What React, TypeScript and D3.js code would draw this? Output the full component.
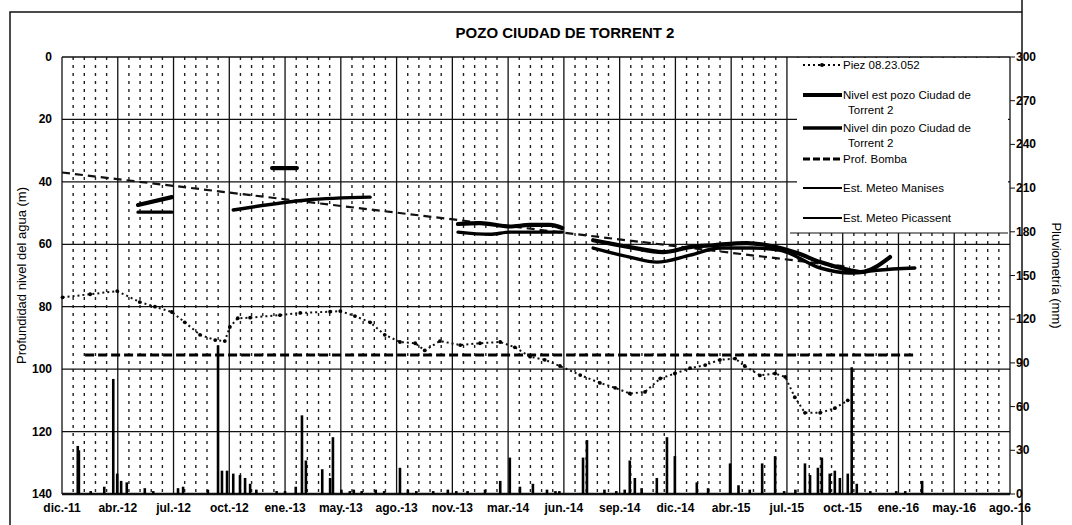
import { useEffect, useRef } from "react";
import * as d3 from "d3";

// axis labels
const tickLabels = [
  "dic.-11", "abr.-12", "jul.-12", "oct.-12", "ene.-13", "may.-13", "ago.-13", "nov.-13", "mar.-14",
  "jun.-14", "sep.-14", "dic.-14", "abr.-15", "jul.-15", "oct.-15", "ene.-16", "may.-16", "ago.-16",
];
const depthTicks = [0, 20, 40, 60, 80, 100, 120, 140];
const rainTicks = [0, 30, 60, 90, 120, 150, 180, 210, 240, 270, 300];

// Piez 08.23.052 (m)
const piez: [string, number][] = [
  ["2012-01-01", 77], ["2012-02-19", 76], ["2012-04-07", 75], ["2012-05-17", 78.5], ["2012-06-13", 80],
  ["2012-07-13", 81.7], ["2012-08-05", 85], ["2012-09-01", 89], ["2012-09-28", 90.7], ["2012-10-15", 91],
  ["2012-10-24", 86.5], ["2012-11-07", 83.7], ["2012-11-29", 83.5], ["2013-01-21", 82.7], ["2013-02-26", 82],
  ["2013-04-20", 81.6], ["2013-05-08", 81.4], ["2013-06-03", 83], ["2013-06-30", 85], ["2013-07-26", 89],
  ["2013-08-22", 91.3], ["2013-09-18", 91.7], ["2013-10-05", 94], ["2013-11-01", 91], ["2013-12-07", 92.3],
  ["2014-01-11", 91.7], ["2014-02-16", 91.3], ["2014-03-14", 93], ["2014-04-10", 96], ["2014-05-06", 97],
  ["2014-06-02", 99], ["2014-07-08", 101.9], ["2014-08-12", 104.4], ["2014-09-08", 106], ["2014-10-04", 107.8],
  ["2014-10-31", 107.3], ["2014-11-27", 103], ["2014-12-23", 101.4], ["2015-01-19", 99.7], ["2015-02-15", 98.7],
  ["2015-03-13", 97], ["2015-04-09", 96.6], ["2015-04-26", 99], ["2015-05-23", 102], ["2015-06-19", 101.4],
  ["2015-07-07", 102.5], ["2015-07-24", 109], ["2015-08-11", 114], ["2015-09-07", 114], ["2015-10-03", 112.5],
  ["2015-10-26", 110],
];

// Nivel est / din (m), null = gap
const nivelEst: ([string, number] | null)[] = [
  ["2012-05-14", 47.4], ["2012-07-13", 44.9], null,
  ["2013-01-07", 35.6], ["2013-02-20", 35.6], null,
  ["2013-12-03", 53.5], ["2014-01-11", 53.2], ["2014-03-05", 54.3], ["2014-04-10", 53.8], ["2014-05-15", 53.8],
  ["2014-06-06", 54.8], null,
  ["2014-07-31", 58.7], ["2014-10-04", 60.9], ["2014-12-02", 62.5], ["2015-01-19", 60.9], ["2015-03-01", 60.3],
  ["2015-04-30", 59.6], ["2015-06-05", 60.3], ["2015-07-28", 62.8], ["2015-09-07", 65.7], ["2015-10-30", 68.3],
  ["2015-11-17", 68.9], ["2016-01-09", 64.1],
];
const nivelDin: ([string, number] | null)[] = [
  ["2012-05-14", 49.7], ["2012-07-13", 49.7], null,
  ["2012-10-30", 49.0], ["2013-03-10", 45.8], ["2013-06-30", 44.9], null,
  ["2013-12-03", 56.1], ["2014-01-29", 56.8], ["2014-03-05", 56.1], ["2014-06-06", 56.1], null,
  ["2014-07-31", 61.2], ["2014-10-04", 64.1], ["2014-11-21", 65.7], ["2015-01-19", 63.5], ["2015-03-13", 61.2],
  ["2015-05-11", 61.2], ["2015-06-28", 61.9], ["2015-09-07", 67.6], ["2015-10-30", 69.2], ["2015-12-17", 68.3],
  ["2016-02-22", 67.6],
];
const profBomba: [string, number][] = [["2012-02-10", 95.5], ["2016-02-22", 95.5]];
const tendencia: [string, number][] = [["2011-12-31", 37], ["2015-10-30", 67.3]];

// daily rain (mm)
const manises: [string, number][] = [
  ["2012-01-28", 33], ["2012-02-20", 2], ["2012-03-31", 79], ["2012-05-26", 4], ["2012-07-24", 4],
  ["2012-08-02", 5], ["2012-10-03", 102], ["2012-11-29", 7], ["2012-12-10", 3], ["2013-01-15", 2],
  ["2013-02-18", 5], ["2013-03-01", 54], ["2013-04-25", 39], ["2013-05-10", 3], ["2013-05-25", 2],
  ["2013-06-15", 2], ["2013-07-10", 3], ["2013-08-22", 18], ["2013-09-20", 2], ["2013-10-20", 2],
  ["2013-11-15", 3], ["2013-12-20", 2], ["2014-01-20", 3], ["2014-03-05", 25], ["2014-05-10", 3],
  ["2014-06-01", 2], ["2014-07-20", 37], ["2014-08-20", 3], ["2014-09-10", 2], ["2014-10-04", 23],
  ["2014-10-25", 4], ["2014-12-09", 39], ["2015-02-20", 4], ["2015-03-31", 21], ["2015-04-15", 6],
  ["2015-05-05", 3], ["2015-06-19", 26], ["2015-07-05", 2], ["2015-07-25", 3], ["2015-09-10", 25],
  ["2015-11-02", 87], ["2015-12-05", 2], ["2016-01-20", 2], ["2016-03-06", 9],
];
const picassent: [string, number][] = [
  ["2012-01-30", 30], ["2012-03-15", 5], ["2012-04-07", 14], ["2012-04-14", 9], ["2012-04-24", 8],
  ["2012-06-10", 2], ["2012-09-15", 3], ["2012-10-10", 16], ["2012-10-19", 16], ["2012-10-30", 14],
  ["2012-11-11", 13], ["2012-11-20", 11], ["2013-01-30", 2], ["2013-03-08", 23], ["2013-04-06", 17],
  ["2013-04-20", 11], ["2013-06-01", 3], ["2013-07-25", 2], ["2013-09-05", 3], ["2013-11-30", 2],
  ["2014-02-16", 9], ["2014-03-23", 5], ["2014-04-15", 7], ["2014-05-25", 2], ["2014-07-13", 25],
  ["2014-09-25", 3], ["2014-10-13", 11], ["2014-11-21", 11], ["2014-12-23", 26], ["2015-01-31", 8],
  ["2015-05-27", 21], ["2015-08-11", 21], ["2015-08-20", 13], ["2015-09-03", 18], ["2015-09-24", 14],
  ["2015-10-03", 16], ["2015-10-12", 11], ["2015-10-26", 14], ["2015-11-11", 7], ["2016-02-05", 2],
];

const FONT = "'Liberation Sans Narrow', 'Liberation Sans', Arial, sans-serif";

const App = () => {
  const svgRef = useRef<SVGSVGElement>(null);

  useEffect(() => {
    const width = 1072;
    const height = 525;
    const margin = { top: 57, right: 62, bottom: 31, left: 62 };
    const svg = d3.select(svgRef.current);
    svg.selectAll("*").remove();
    svg.attr("width", width).attr("height", height).style("font-family", FONT);

    const parse = d3.timeParse("%Y-%m-%d");
    const start = parse("2011-12-31")!;
    const step = 99; // days between labels
    const tickDates = tickLabels.map((_, i) => d3.timeDay.offset(start, i * step));

    const x = d3.scaleTime()
      .domain([start, tickDates[tickDates.length - 1]])
      .range([margin.left, width - margin.right]);
    const y = d3.scaleLinear().domain([0, 140]).range([margin.top, height - margin.bottom]);
    const yR = d3.scaleLinear().domain([0, 300]).range([height - margin.bottom, margin.top]);

    svg.append("rect").attr("width", width).attr("height", height).attr("fill", "#fff");

    // outer frame
    svg.append("path")
      .attr("d", `M10,${height} V12 H1022 M1022,0 V${height}`)
      .attr("fill", "none").attr("stroke", "#111").attr("stroke-width", 1.5);

    // minor vertical gridlines (dashed)
    const minor: Date[] = [];
    tickDates.slice(0, -1).forEach((d) => {
      for (let k = 1; k < 5; k++) minor.push(d3.timeHour.offset(d, Math.round((k * step * 24) / 5)));
    });
    svg.append("g").selectAll("line").data(minor).join("line")
      .attr("x1", (d) => x(d)).attr("x2", (d) => x(d))
      .attr("y1", margin.top).attr("y2", height - margin.bottom)
      .attr("stroke", "#222").attr("stroke-width", 1.4).attr("stroke-dasharray", "3,5");

    // major vertical gridlines
    svg.append("g").selectAll("line").data(tickDates).join("line")
      .attr("x1", (d) => x(d)).attr("x2", (d) => x(d))
      .attr("y1", margin.top).attr("y2", height - margin.bottom)
      .attr("stroke", "#111").attr("stroke-width", 1.3);

    // horizontal gridlines
    svg.append("g").selectAll("line").data(depthTicks).join("line")
      .attr("x1", margin.left).attr("x2", width - margin.right)
      .attr("y1", (d) => y(d)).attr("y2", (d) => y(d))
      .attr("stroke", "#111").attr("stroke-width", (d) => (d === 140 ? 2.5 : 1.3));

    // rain bars
    const bars = [...manises, ...picassent];
    svg.append("g").selectAll("rect").data(bars).join("rect")
      .attr("x", (d) => x(parse(d[0])!) - 1.3)
      .attr("width", 2.6)
      .attr("y", (d) => yR(d[1]))
      .attr("height", (d) => yR(0) - yR(d[1]))
      .attr("fill", "#000");

    // prof. bomba
    const line = d3.line<[string, number]>()
      .x((d) => x(parse(d[0])!))
      .y((d) => y(d[1]));
    svg.append("path").attr("d", line(profBomba))
      .attr("fill", "none").attr("stroke", "#000").attr("stroke-width", 3).attr("stroke-dasharray", "9,4");

    // trend
    svg.append("path").attr("d", line(tendencia))
      .attr("fill", "none").attr("stroke", "#111").attr("stroke-width", 2.2).attr("stroke-dasharray", "8,5");

    // piezometer
    svg.append("path").attr("d", line(piez))
      .attr("fill", "none").attr("stroke", "#111").attr("stroke-width", 2).attr("stroke-dasharray", "2,3");
    svg.append("g").selectAll("circle").data(piez).join("circle")
      .attr("cx", (d) => x(parse(d[0])!)).attr("cy", (d) => y(d[1])).attr("r", 1.9).attr("fill", "#000");

    // well levels
    const gapLine = d3.line<[string, number] | null>()
      .defined((d) => d !== null)
      .x((d) => x(parse(d![0])!))
      .y((d) => y(d![1]))
      .curve(d3.curveMonotoneX);
    svg.append("path").attr("d", gapLine(nivelEst))
      .attr("fill", "none").attr("stroke", "#000").attr("stroke-width", 4.2).attr("stroke-linecap", "round");
    svg.append("path").attr("d", gapLine(nivelDin))
      .attr("fill", "none").attr("stroke", "#000").attr("stroke-width", 3.4).attr("stroke-linecap", "round");

    // left axis labels
    svg.append("g").selectAll("text").data(depthTicks).join("text")
      .attr("x", 52).attr("y", (d) => y(d) + 4)
      .attr("text-anchor", "end").attr("font-size", 12).attr("font-weight", 700)
      .text((d) => d);

    // right axis
    svg.append("g").selectAll("line").data(rainTicks).join("line")
      .attr("x1", width - margin.right).attr("x2", width - margin.right + 5)
      .attr("y1", (d) => yR(d)).attr("y2", (d) => yR(d))
      .attr("stroke", "#111");
    svg.append("g").selectAll("text").data(rainTicks).join("text")
      .attr("x", width - margin.right + 6).attr("y", (d) => yR(d) + 4)
      .attr("font-size", 12).attr("font-weight", 700)
      .text((d) => d);

    // bottom labels
    svg.append("g").selectAll("text").data(tickDates).join("text")
      .attr("x", (d) => x(d)).attr("y", height - margin.bottom + 18)
      .attr("text-anchor", "middle").attr("font-size", 12).attr("font-weight", 700)
      .text((_, i) => tickLabels[i]);

    // axis titles
    svg.append("text")
      .attr("transform", `translate(26,${(margin.top + height - margin.bottom) / 2}) rotate(-90)`)
      .attr("text-anchor", "middle").attr("font-size", 13)
      .style("font-family", "'Liberation Sans', Arial, sans-serif")
      .text("Profundidad nivel del agua (m)");
    svg.append("text")
      .attr("transform", `translate(1052,${(margin.top + height - margin.bottom) / 2}) rotate(90)`)
      .attr("text-anchor", "middle").attr("font-size", 13)
      .style("font-family", "'Liberation Sans', Arial, sans-serif")
      .text("Pluviometría (mm)");

    // title
    svg.append("text")
      .attr("x", 565).attr("y", 38).attr("text-anchor", "middle")
      .attr("font-size", 15).attr("font-weight", 700)
      .style("font-family", "'Liberation Sans', Arial, sans-serif")
      .text("POZO CIUDAD DE TORRENT 2");

    // legend
    const lg = svg.append("g");
    lg.append("rect").attr("x", 797).attr("y", margin.top + 1).attr("width", 211).attr("height", 175)
      .attr("fill", "#fff");
    lg.append("line").attr("x1", 790).attr("x2", 1008).attr("y1", 233).attr("y2", 233)
      .attr("stroke", "#111").attr("stroke-width", 1.2);
    const items = [
      { label: ["Piez 08.23.052"], y: 65, w: 2, dash: "2,3", dot: true },
      { label: ["Nivel est pozo Ciudad de", "Torrent 2"], y: 95, w: 4, dash: null, dot: false },
      { label: ["Nivel din pozo Ciudad de", "Torrent 2"], y: 128, w: 3.4, dash: null, dot: false },
      { label: ["Prof. Bomba"], y: 159, w: 3, dash: "7,3", dot: false },
      { label: ["Est. Meteo Manises"], y: 188, w: 2, dash: null, dot: false },
      { label: ["Est. Meteo Picassent"], y: 218, w: 2, dash: null, dot: false },
    ];
    items.forEach((it) => {
      lg.append("line").attr("x1", 803).attr("x2", 842).attr("y1", it.y).attr("y2", it.y)
        .attr("stroke", "#000").attr("stroke-width", it.w)
        .attr("stroke-dasharray", it.dash ?? null);
      if (it.dot) lg.append("circle").attr("cx", 822).attr("cy", it.y).attr("r", 2).attr("fill", "#000");
      it.label.forEach((t, i) => {
        lg.append("text").attr("x", i === 0 ? 843 : 848).attr("y", it.y + 4 + i * 15)
          .attr("font-size", 11.5).text(t);
      });
    });
  }, []);

  return <svg ref={svgRef} style={{ position: "absolute", left: 0, top: 0, display: "block" }} />;
};

export default App;
